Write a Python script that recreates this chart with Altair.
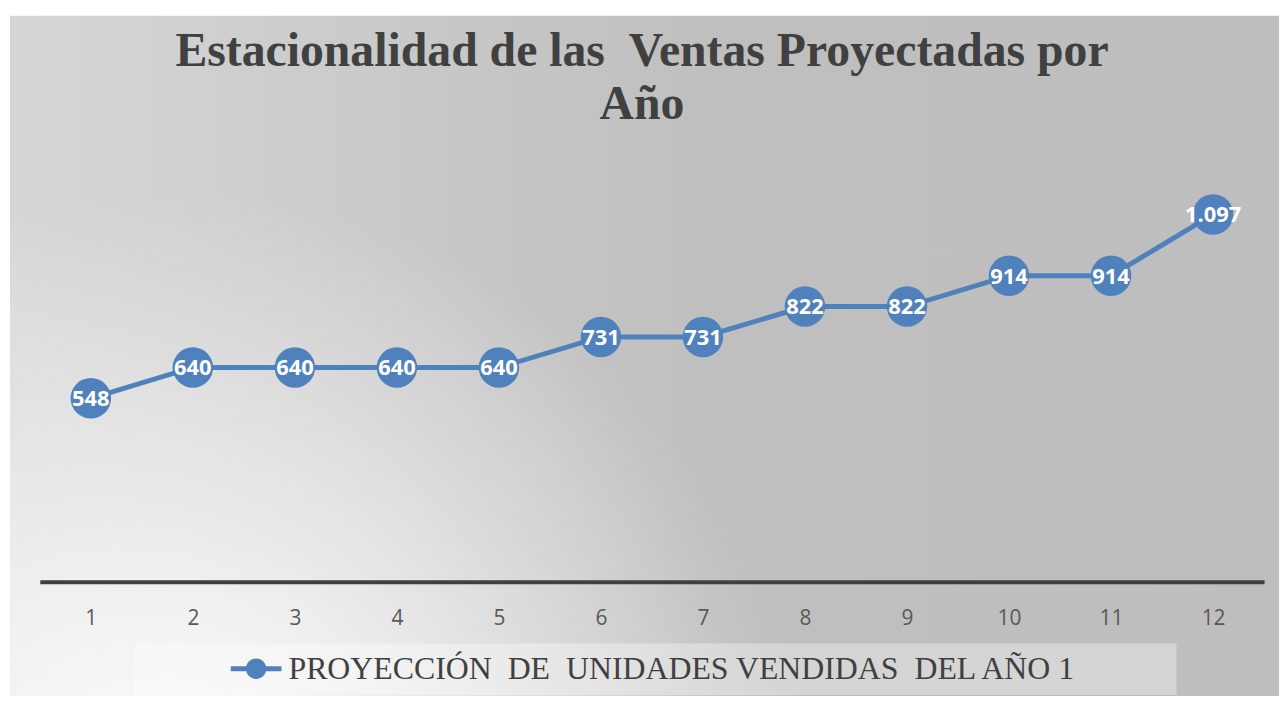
import altair as alt
import pandas as pd

meses = [1, 2, 3, 4, 5, 6, 7, 8, 9, 10, 11, 12]
unidades = [548, 640, 640, 640, 640, 731, 731, 822, 822, 914, 914, 1097]
etiquetas = ["548", "640", "640", "640", "640", "731", "731", "822", "822", "914", "914", "1.097"]
serie = "PROYECCIÓN \u00a0DE \u00a0UNIDADES VENDIDAS \u00a0DEL AÑO 1"
titulo = ["Estacionalidad de las \u00a0Ventas Proyectadas por", "Año"]

df = pd.DataFrame({"mes": meses, "unidades": unidades, "etiqueta": etiquetas, "serie": [serie] * 12})
one = pd.DataFrame({"a": [0]})

W, H = 1231, 404
BLUE = "#4f81bd"

x_enc = alt.X("mes:Q", scale=alt.Scale(domain=[0.5, 12.5], nice=False, zero=False),
              axis=alt.Axis(values=meses, title=None, ticks=False, grid=False, domain=True,
                            domainColor="#404040", domainWidth=4, labelFont="Open Sans",
                            labelFontSize=21, labelColor="#595959", labelPadding=26, format="d",
                            zindex=1))
y_enc = alt.Y("unidades:Q", scale=alt.Scale(domain=[0, 1200], nice=False), axis=None)

bg_lin = alt.Chart(one).mark_rect(
    color=alt.LinearGradient(gradient="linear", x1=0, y1=0, x2=1, y2=0,
                             stops=[alt.GradientStop(color="#d6d6d6", offset=0),
                                    alt.GradientStop(color="#bfbfbf", offset=0.55),
                                    alt.GradientStop(color="#bebebe", offset=1)])
).encode(x=alt.value(-30), x2=alt.value(W + 15), y=alt.value(-165), y2=alt.value(H + 115))

bg_rad = alt.Chart(one).mark_rect(
    color=alt.RadialGradient(gradient="radial", x1=0.13, y1=0.87, r1=0, x2=0.13, y2=0.87, r2=0.5,
                             stops=[alt.GradientStop(color="rgba(255,255,255,1)", offset=0),
                                    alt.GradientStop(color="rgba(255,255,255,0.65)", offset=0.4),
                                    alt.GradientStop(color="rgba(255,255,255,0)", offset=1)])
).encode(x=alt.value(-30), x2=alt.value(W + 15), y=alt.value(-165), y2=alt.value(H + 115))

legend_box = alt.Chart(one).mark_rect(color="white", opacity=0.35).encode(
    x=alt.value(95), x2=alt.value(1143), y=alt.value(466), y2=alt.value(518))

line = alt.Chart(df).mark_line(color=BLUE, strokeWidth=5).encode(x=x_enc, y=y_enc)

sym = ("M-1,-0.1 L-0.38,-0.1 L-0.38,0.1 L-1,0.1 Z "
       "M0.38,-0.1 L1,-0.1 L1,0.1 L0.38,0.1 Z "
       "M0.4,0 A0.4,0.4 0 1,1 -0.4,0 A0.4,0.4 0 1,1 0.4,0 Z")

points = alt.Chart(df).mark_point(filled=True, size=1660, opacity=1, strokeWidth=0).encode(
    x=x_enc, y=y_enc,
    color=alt.Color("serie:N", scale=alt.Scale(range=[BLUE]),
                    legend=alt.Legend(title=None, orient="none", legendX=192, legendY=466,
                                      symbolType=sym, symbolSize=2601, symbolFillColor=BLUE,
                                      symbolStrokeWidth=0, symbolOpacity=1,
                                      labelFont="Liberation Serif", labelFontSize=32,
                                      labelColor="#404040", labelOffset=7, labelLimit=1100,
                                      padding=0, zindex=1)))

labels = alt.Chart(df).mark_text(font="Open Sans", fontWeight="bold", fontSize=22, color="white",
                                 align="center", baseline="middle", dy=1).encode(
    x=x_enc, y=y_enc, text="etiqueta:N")

chart = alt.layer(bg_lin, bg_rad, legend_box, line, points, labels).properties(
    width=W, height=H,
    padding={"left": 32, "top": 171, "right": 15, "bottom": 115},
    autosize=alt.AutoSizeParams(type="none"),
    title=alt.Title(titulo, font="Liberation Serif", fontSize=48, fontWeight="bold",
                    color="#404040", anchor="middle", offset=-152, lineHeight=54,
                    baseline="alphabetic", dx=-10, zindex=1),
).configure(background="white").configure_view(stroke=None)

chart.save("out.html", embed_options={"renderer": "svg", "actions": False})
